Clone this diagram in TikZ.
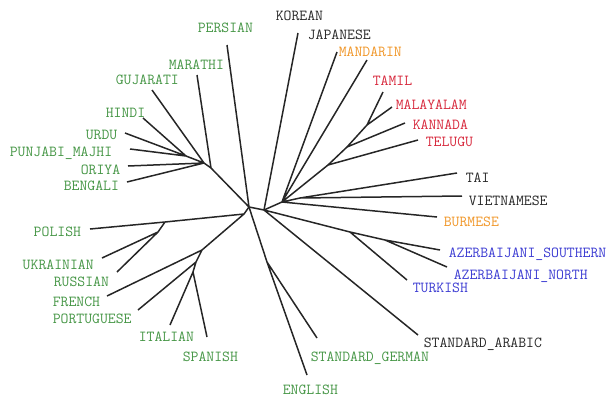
\documentclass[tikz,border=0pt]{standalone}
\usepackage{xcolor}
\definecolor{ieGreen}{RGB}{70,150,70}
\definecolor{sinoOrange}{RGB}{240,150,40}
\definecolor{dravRed}{RGB}{215,40,60}
\definecolor{turkBlue}{RGB}{60,60,210}
\definecolor{isoGray}{RGB}{40,40,40}

\begin{document}
\begin{tikzpicture}[x=1pt, y=-1pt, line width=1.5pt, draw=black!85,
		lang/.style={anchor=west, inner sep=0pt, text depth=0pt, font=\ttfamily\fontsize{15.3}{16}\selectfont},
		ie/.style={lang, text=ieGreen}, sino/.style={lang, text=sinoOrange},
		drav/.style={lang, text=dravRed}, turk/.style={lang, text=turkBlue}, iso/.style={lang, text=isoGray}]
			\useasboundingbox (0,0) rectangle (614,397);
			\coordinate (root) at (249,207);
			\coordinate (indic) at (211,168);
			\coordinate (indicA) at (204,163);
			\coordinate (indicB) at (186,156);
			\coordinate (slavrom) at (244,214);
			\coordinate (slavic) at (165,222);
			\coordinate (eastslav) at (158,232);
			\coordinate (romance) at (202,250);
			\coordinate (romanceA) at (196,262);
			\coordinate (romanceB) at (193,272);
			\coordinate (germanic) at (267,262);
			\coordinate (east) at (264,210);
			\coordinate (turkic) at (350,232);
			\coordinate (azeri) at (385,240);
			\coordinate (asia) at (282,202);
			\coordinate (taiviet) at (300,198);
			\coordinate (dravidian) at (328,165);
			\coordinate (dravA) at (347,147);
			\coordinate (dravB) at (367,125);
			\coordinate (persianTip) at (227,45);
			\coordinate (marathiTip) at (197,75);
			\coordinate (gujaratiTip) at (152,90);
			\coordinate (hindiTip) at (143,118);
			\coordinate (urduTip) at (125,133);
			\coordinate (punjabiTip) at (130,149);
			\coordinate (oriyaTip) at (128,166);
			\coordinate (bengaliTip) at (127,182);
			\coordinate (polishTip) at (90,229);
			\coordinate (ukrainianTip) at (102,258);
			\coordinate (russianTip) at (117,272);
			\coordinate (frenchTip) at (107,296);
			\coordinate (portugueseTip) at (138,310);
			\coordinate (italianTip) at (170,325);
			\coordinate (spanishTip) at (207,337);
			\coordinate (germanTip) at (317,338);
			\coordinate (englishTip) at (307,375);
			\coordinate (arabicTip) at (418,335);
			\coordinate (turkishTip) at (407,280);
			\coordinate (azSouthTip) at (440,250);
			\coordinate (azNorthTip) at (447,267);
			\coordinate (burmeseTip) at (437,217);
			\coordinate (vietTip) at (462,196);
			\coordinate (taiTip) at (457,173);
			\coordinate (teluguTip) at (418,140);
			\coordinate (kannadaTip) at (405,123);
			\coordinate (malayalamTip) at (392,107);
			\coordinate (tamilTip) at (383,92);
			\coordinate (mandarinTip) at (367,60);
			\coordinate (japaneseTip) at (337,52);
			\coordinate (koreanTip) at (298,33);
			\draw (root) -- (persianTip) (root) -- (indic) -- (marathiTip) (indic) -- (indicA) -- (gujaratiTip)
				(indicA) -- (oriyaTip) (indicA) -- (bengaliTip) (indicA) -- (indicB) -- (hindiTip)
				(indicB) -- (urduTip) (indicB) -- (punjabiTip);
			\draw (root) -- (slavrom) -- (slavic) -- (polishTip) (slavic) -- (eastslav) -- (ukrainianTip)
				(eastslav) -- (russianTip) (slavrom) -- (romance) -- (frenchTip) (romance) -- (romanceA) -- (portugueseTip)
				(romanceA) -- (romanceB) -- (italianTip) (romanceB) -- (spanishTip);
			\draw (root) -- (germanic) -- (germanTip) (germanic) -- (englishTip);
			\draw (root) -- (east) -- (koreanTip) (east) -- (arabicTip) (east) -- (turkic) -- (turkishTip)
				(turkic) -- (azeri) -- (azSouthTip) (azeri) -- (azNorthTip);
			\draw (east) -- (asia) -- (japaneseTip) (asia) -- (mandarinTip) (asia) -- (burmeseTip)
				(asia) -- (taiviet) -- (taiTip) (taiviet) -- (vietTip) (asia) -- (dravidian) -- (teluguTip)
				(dravidian) -- (dravA) -- (kannadaTip) (dravA) -- (dravB) -- (malayalamTip) (dravB) -- (tamilTip);
			\node (persian) at (197,28) [ie] {PERSIAN};
			\node (marathi) at (168,65) [ie] {MARATHI};
			\node (gujarati) at (115,80) [ie] {GUJARATI};
			\node (hindi) at (105,113) [ie] {HINDI};
			\node (urdu) at (85,135) [ie] {URDU};
			\node (punjabi) at (9,152) [ie] {PUNJABI\_MAJHI};
			\node (oriya) at (80,170) [ie] {ORIYA};
			\node (bengali) at (63,186) [ie] {BENGALI};
			\node (polish) at (33,232) [ie] {POLISH};
			\node (ukrainian) at (22,265) [ie] {UKRAINIAN};
			\node (russian) at (53,282) [ie] {RUSSIAN};
			\node (french) at (52,302) [ie] {FRENCH};
			\node (portuguese) at (52,319) [ie] {PORTUGUESE};
			\node (italian) at (138,337) [ie] {ITALIAN};
			\node (spanish) at (182,357) [ie] {SPANISH};
			\node (german) at (310,357) [ie] {STANDARD\_GERMAN};
			\node (english) at (282,390) [ie] {ENGLISH};
			\node (arabic) at (423,343) [iso] {STANDARD\_ARABIC};
			\node (turkish) at (412,288) [turk] {TURKISH};
			\node (azNorth) at (453,275) [turk] {AZERBAIJANI\_NORTH};
			\node (azSouth) at (448,253) [turk] {AZERBAIJANI\_SOUTHERN};
			\node (burmese) at (443,222) [sino] {BURMESE};
			\node (viet) at (468,201) [iso] {VIETNAMESE};
			\node (tai) at (465,178) [iso] {TAI};
			\node (telugu) at (425,142) [drav] {TELUGU};
			\node (kannada) at (412,125) [drav] {KANNADA};
			\node (malayalam) at (395,105) [drav] {MALAYALAM};
			\node (tamil) at (372,81) [drav] {TAMIL};
			\node (mandarin) at (338,52) [sino] {MANDARIN};
			\node (japanese) at (307,35) [iso] {JAPANESE};
			\node (korean) at (275,16) [iso] {KOREAN};
		\end{tikzpicture}
\end{document}
